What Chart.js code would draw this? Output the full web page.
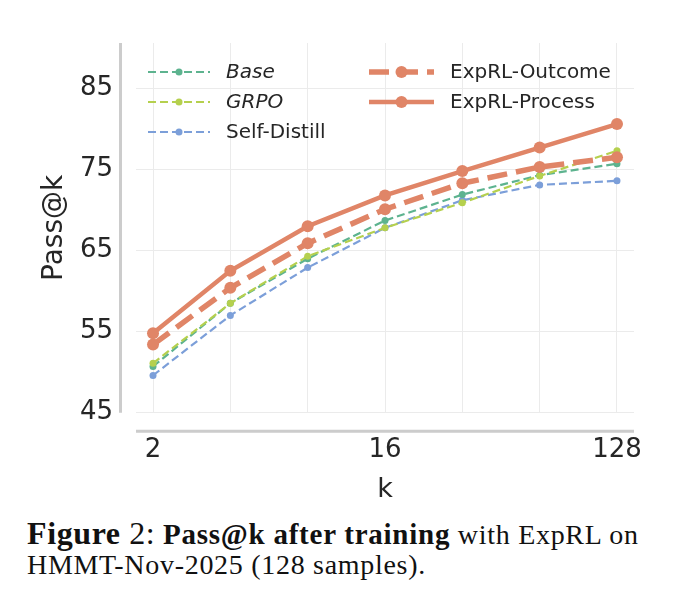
<!DOCTYPE html>
<html>
<head>
<meta charset="utf-8">
<script src="https://cdn.jsdelivr.net/npm/chart.js@4.4.1/dist/chart.umd.min.js"></script>
<style>
  body { margin: 0; background: #fff; width: 680px; height: 607px; position: relative; overflow: hidden; }
  #wrap { position: absolute; left: 0; top: 0; width: 680px; height: 510px; }
  .cap { position: absolute; left: 27px; font-family: 'Liberation Serif', serif; font-size: 28px; letter-spacing: 0.7px; line-height: 32px; color: #111; white-space: nowrap; }
  .cap .fig { font-size: 32px; letter-spacing: 0.6px; }
  .cap b.small { font-size: 29px; letter-spacing: 0.75px; }
</style>
</head>
<body>
<div id="wrap"><canvas id="passChart"></canvas></div>
<div class="cap" style="top:517px"><span class="fig"><b>Figure</b> 2:</span> <b class="small">Pass@k after training</b> with ExpRL on</div>
<div class="cap" style="top:549px">HMMT-Nov-2025 (128 samples).</div>
<script>
const kValues = [2, 4, 8, 16, 32, 64, 128];
const xTickLabels = [2, 16, 128];
const yTicks = [45, 55, 65, 75, 85];

const baseVals = [50.7, 58.5, 64.0, 68.7, 71.9, 74.3, 75.7];
const grpoVals = [51.1, 58.5, 64.3, 67.8, 70.9, 74.2, 77.3];
const selfDistillVals = [49.6, 57.0, 62.9, 67.8, 71.2, 73.1, 73.6];
const outcomeVals = [53.4, 60.4, 65.9, 70.1, 73.3, 75.3, 76.5];
const processVals = [54.8, 62.5, 68.0, 71.8, 74.8, 77.7, 80.6];

const toPoints = vals => vals.map((v, i) => ({ x: kValues[i], y: v }));

Chart.defaults.font.family = 'DejaVu Sans';
Chart.defaults.color = '#262626';

function series(label, vals, color, opts) {
    return Object.assign({
        label: label,
        data: toPoints(vals),
        borderColor: color,
        backgroundColor: color,
        pointBackgroundColor: color,
        pointBorderWidth: 0,
        pointHoverRadius: 0,
        tension: 0,
        fill: false
    }, opts);
}

const datasets = [
    series('Base', baseVals, '#5db38f', { borderWidth: 2.2, borderDash: [8, 4], pointRadius: 3.5, order: 4, italic: true }),
    series('GRPO', grpoVals, '#b5d04e', { borderWidth: 2.2, borderDash: [8, 4], pointRadius: 3.5, order: 3, italic: true }),
    series('Self-Distill', selfDistillVals, '#7c9fd9', { borderWidth: 2.2, borderDash: [8, 4], pointRadius: 3.5, order: 5 }),
    series('ExpRL-Outcome', outcomeVals, '#e08567', { borderWidth: 5.5, borderDash: [20, 9], pointRadius: 6, order: 2 }),
    series('ExpRL-Process', processVals, '#e08567', { borderWidth: 4.5, pointRadius: 6, order: 1 })
];

// detached spines like seaborn despine(offset=...)
const spines = {
    id: 'spines',
    beforeDatasetsDraw(chart) {
        const { ctx, chartArea: a } = chart;
        ctx.save();
        ctx.strokeStyle = '#cccccc';
        ctx.lineWidth = 3;
        ctx.beginPath();
        ctx.moveTo(a.left - 15.5, a.top);
        ctx.lineTo(a.left - 15.5, a.bottom);
        ctx.moveTo(a.left, a.bottom + 18.5);
        ctx.lineTo(a.right, a.bottom + 18.5);
        ctx.stroke();
        ctx.restore();
    }
};

// two-column legend in the upper left of the plot
const legend2col = {
    id: 'legend2col',
    afterDatasetsDraw(chart) {
        const { ctx, chartArea: a } = chart;
        const cols = [[0, 1, 2], [3, 4]];
        const colX = [a.left + 12, a.left + 233];
        ctx.save();
        cols.forEach((col, c) => {
            col.forEach((di, r) => {
                const ds = chart.data.datasets[di];
                const x0 = colX[c];
                const y = a.top + 29 + r * 30;
                const len = ds.borderWidth > 3 ? 65 : 62;
                ctx.strokeStyle = ds.borderColor;
                ctx.lineWidth = ds.borderWidth;
                ctx.setLineDash(ds.borderDash || []);
                ctx.beginPath();
                ctx.moveTo(x0, y);
                ctx.lineTo(x0 + len, y);
                ctx.stroke();
                ctx.setLineDash([]);
                ctx.fillStyle = ds.borderColor;
                ctx.beginPath();
                ctx.arc(x0 + len / 2, y, ds.pointRadius, 0, Math.PI * 2);
                ctx.fill();
                ctx.fillStyle = '#262626';
                ctx.font = (ds.italic ? 'italic ' : '') + '20px "DejaVu Sans"';
                ctx.textBaseline = 'middle';
                ctx.textAlign = 'left';
                ctx.fillText(ds.label, x0 + len + 16, y + 1);
            });
        });
        ctx.restore();
    }
};

new Chart(document.getElementById('passChart'), {
    type: 'line',
    data: { datasets: datasets },
    plugins: [spines, legend2col],
    options: {
        responsive: true,
        maintainAspectRatio: false,
        animation: false,
        layout: { padding: { top: 43, right: 46, left: 0, bottom: 0 } },
        plugins: { legend: { display: false }, tooltip: { enabled: false } },
        scales: {
            x: {
                type: 'logarithmic',
                min: Math.pow(2, 0.78),
                max: Math.pow(2, 7.22),
                afterBuildTicks: s => { s.ticks = kValues.map(v => ({ value: v })); },
                afterFit: s => { s.height = 97.3; },
                ticks: {
                    autoSkip: false,
                    maxRotation: 0,
                    padding: 22,
                    font: { size: 26 },
                    callback: v => xTickLabels.includes(v) ? String(v) : ''
                },
                grid: { color: '#ebebeb', lineWidth: 1, drawTicks: false },
                border: { display: false },
                title: { display: true, text: 'k', font: { size: 27 }, padding: { top: 0, bottom: 4 } }
            },
            y: {
                min: 45,
                max: 90.6,
                afterBuildTicks: s => { s.ticks = yTicks.map(v => ({ value: v })); },
                afterFit: s => { s.width = 136; },
                ticks: { padding: 23, font: { size: 26 } },
                grid: { color: '#ebebeb', lineWidth: 1, drawTicks: false },
                border: { display: false },
                title: { display: true, text: 'Pass@k', font: { size: 28 }, padding: { top: 38, bottom: 0 } }
            }
        }
    }
});
</script>
</body>
</html>
